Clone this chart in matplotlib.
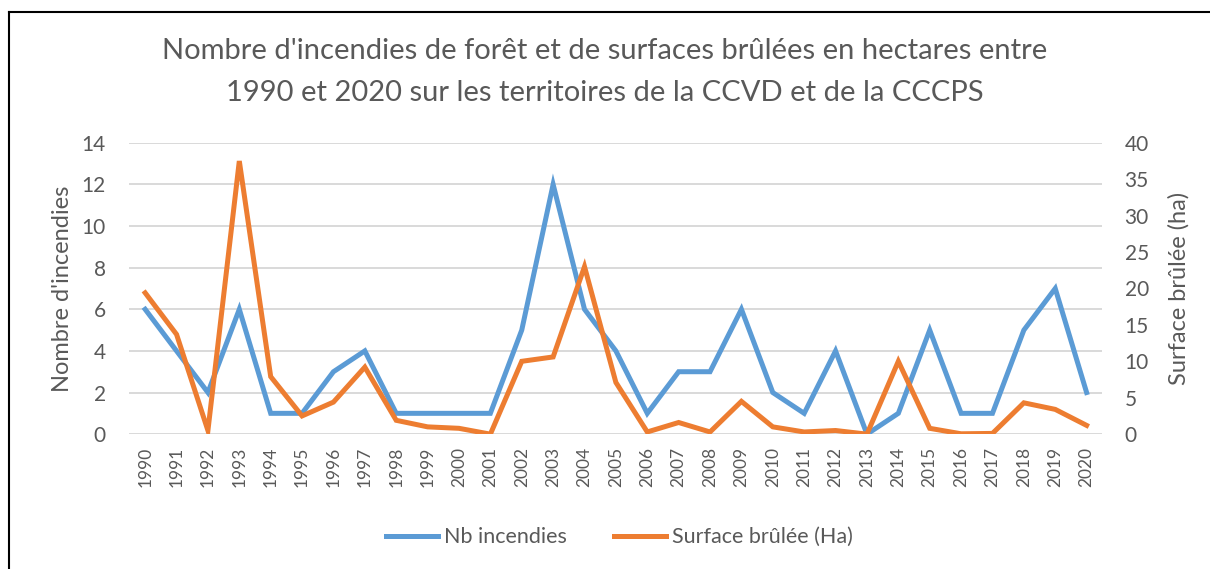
import matplotlib.pyplot as plt
from matplotlib.lines import Line2D

years = list(range(1990, 2021))
nb_incendies = [6, 4, 2, 6, 1, 1, 3, 4, 1, 1, 1, 1, 5, 12, 6, 4, 1, 3, 3, 6,
                2, 1, 4, 0, 1, 5, 1, 1, 5, 7, 2]
surface_ha = [19.4, 13.7, 0.5, 37.5, 7.9, 2.5, 4.4, 9.2, 1.9, 1.0, 0.8, 0.0,
              10.0, 10.6, 23.0, 7.1, 0.3, 1.6, 0.3, 4.5, 1.0, 0.3, 0.5, 0.0,
              10.0, 0.8, 0.05, 0.1, 4.3, 3.4, 1.2]

plt.rcParams['font.family'] = ['Lato', 'DejaVu Sans']
grey = '#595959'
blue = '#5B9BD5'
orange = '#ED7D31'

fig = plt.figure(figsize=(12.1, 5.69), dpi=100)
ax = fig.add_axes([0.107, 0.237, 0.804, 0.512])
ax2 = ax.twinx()

l1, = ax.plot(years, nb_incendies, color=blue, lw=3.6, solid_joinstyle='miter',
              label='Nb incendies', zorder=3)
l2, = ax2.plot(years, surface_ha, color=orange, lw=3.6, solid_joinstyle='miter',
               label='Surface brûlée (Ha)', zorder=3)

ax.set_xlim(1989.5, 2020.5)
ax.set_ylim(0, 14)
ax2.set_ylim(0, 40)
ax.set_yticks(range(0, 15, 2))
ax2.set_yticks(range(0, 41, 5))
ax.set_xticks(years)
ax.set_xticklabels([str(y) for y in years], rotation=90, fontsize=12.5, color=grey)
ax.tick_params(axis='y', labelsize=15, colors=grey, length=0, pad=17)
ax2.tick_params(axis='y', labelsize=15, colors=grey, length=0, pad=16)
ax.tick_params(axis='x', length=0, pad=9)
ax.grid(axis='y', color='#D9D9D9', lw=1.4)
ax.set_axisbelow(True)
for a in (ax, ax2):
    for s in a.spines.values():
        s.set_visible(False)

ax.set_ylabel("Nombre d'incendies", fontsize=17, color=grey, labelpad=6)
ax2.set_ylabel('Surface brûlée (ha)', fontsize=17, color=grey, labelpad=14)

fig.text(0.5, 1 - 72 / 569,
         "Nombre d'incendies de forêt et de surfaces brûlées en hectares entre\n"
         "1990 et 2020 sur les territoires de la CCVD et de la CCCPS",
         ha='center', va='center', fontsize=21, color=grey, linespacing=1.75)

fig.legend(handles=[l1, l2], loc='center', bbox_to_anchor=(0.512, 0.056), ncol=2,
           frameon=False, fontsize=15.5, labelcolor=grey, handlelength=2.4,
           handletextpad=0.3, columnspacing=2.2)

# frame lines (top and left)
fig.add_artist(Line2D([9 / 1210, 1], [1 - 12 / 569, 1 - 12 / 569], color='black', lw=1.5))
fig.add_artist(Line2D([9 / 1210, 9 / 1210], [0, 1 - 12 / 569], color='black', lw=1.5))

fig.savefig('out.png', dpi=100)
